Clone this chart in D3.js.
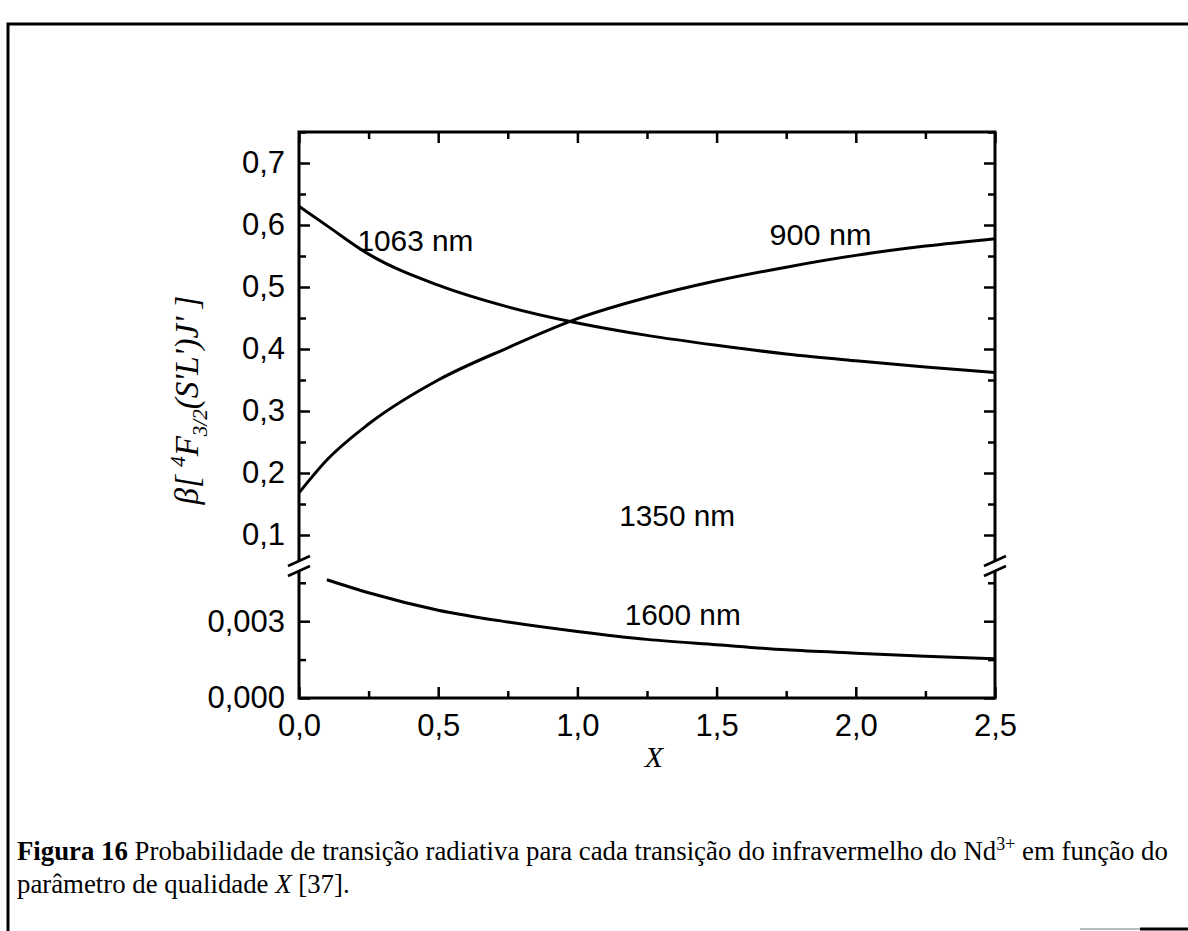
<!DOCTYPE html>
<html>
<head>
<meta charset="utf-8">
<script src="https://cdn.jsdelivr.net/npm/d3@7"></script>
<style>
  body { margin: 0; background: #fff; }
  svg { display: block; }
</style>
</head>
<body>
<div id="chart"></div>
<script>
// Branching ratio of the Nd3+ 4F3/2 infrared transitions vs quality parameter X

const xValues = [0, 0.1, 0.25, 0.5, 0.75, 1.0, 1.25, 1.5, 1.75, 2.0, 2.25, 2.5];
const beta1063 = [0.630, 0.599, 0.553, 0.503, 0.468, 0.442, 0.422, 0.406, 0.392, 0.381, 0.371, 0.362];
const beta900 = [0.168, 0.221, 0.279, 0.350, 0.402, 0.449, 0.483, 0.510, 0.532, 0.551, 0.566, 0.578];

const xValues1600 = [0.1, 0.25, 0.5, 0.75, 1.0, 1.25, 1.5, 1.75, 2.0, 2.25, 2.5];
const beta1600 = [0.00462, 0.00411, 0.00343, 0.00297, 0.00260, 0.00229, 0.00208, 0.00188, 0.00175, 0.00163, 0.00153];

const xMajorTicks = [0, 0.5, 1.0, 1.5, 2.0, 2.5];
const xMinorTicks = [0.25, 0.75, 1.25, 1.75, 2.25];
const yUpperMajor = [0.1, 0.2, 0.3, 0.4, 0.5, 0.6, 0.7];
const yUpperMinor = [0.15, 0.25, 0.35, 0.45, 0.55, 0.65, 0.75];
const yLowerMajor = [0, 0.003];
const yLowerMinor = [0.0015, 0.0045];

const curveLabels = [
    { text: "1063 nm", x: 0.21, y: 0.558, panel: "upper" },
    { text: "900 nm", x: 1.69, y: 0.568, panel: "upper" },
    { text: "1350 nm", x: 1.15, y: 0.115, panel: "upper" },
    { text: "1600 nm", x: 1.17, y: 0.00287, panel: "lower" }
];

const W = 1188, H = 931;
const margin = { left: 299, right: 995, top: 132, bottom: 698 };
const breakY = 566;

const svg = d3.select("#chart")
    .append("svg")
    .attr("width", W)
    .attr("height", H);

// page frame
svg.append("path")
    .attr("d", `M8,${H} L8,24 L${W},24`)
    .attr("fill", "none")
    .attr("stroke", "#000")
    .attr("stroke-width", 3);
svg.append("line")
    .attr("x1", 1080).attr("x2", 1140).attr("y1", 929).attr("y2", 929)
    .attr("stroke", "#bbb").attr("stroke-width", 2);
svg.append("line")
    .attr("x1", 1140).attr("x2", W).attr("y1", 929).attr("y2", 929)
    .attr("stroke", "#000").attr("stroke-width", 3);

const x = d3.scaleLinear().domain([0, 2.5]).range([margin.left, margin.right]);
const yUp = d3.scaleLinear().domain([0.05, 0.75]).range([breakY, margin.top]);
const yLow = d3.scaleLinear().domain([0, 0.005]).range([margin.bottom, 570]);

const fmt = d => d3.format(d < 0.01 ? ".3f" : ".1f")(d).replace(".", ",");
const fmtX = d => d3.format(".1f")(d).replace(".", ",");

function styleAxis(g, size) {
    g.select(".domain").remove();
    g.selectAll(".tick line").attr("stroke", "#000").attr("stroke-width", 2.5);
    g.selectAll(".tick text")
        .attr("fill", "#000")
        .style("font-family", "'Liberation Sans', Arial, sans-serif")
        .style("font-size", size + "px");
}

// bottom axis
svg.append("g")
    .attr("transform", `translate(0,${margin.bottom})`)
    .call(d3.axisBottom(x).tickValues(xMajorTicks).tickSize(-11).tickPadding(16).tickFormat(fmtX))
    .call(g => styleAxis(g, 31));
svg.append("g")
    .attr("transform", `translate(0,${margin.bottom})`)
    .call(d3.axisBottom(x).tickValues(xMinorTicks).tickSize(-7).tickFormat(""))
    .call(g => styleAxis(g, 31));

// top axis
svg.append("g")
    .attr("transform", `translate(0,${margin.top})`)
    .call(d3.axisTop(x).tickValues(xMajorTicks).tickSize(-11).tickFormat(""))
    .call(g => styleAxis(g, 31));
svg.append("g")
    .attr("transform", `translate(0,${margin.top})`)
    .call(d3.axisTop(x).tickValues(xMinorTicks).tickSize(-7).tickFormat(""))
    .call(g => styleAxis(g, 31));

// left and right axes, two panels each
[[yUp, yUpperMajor, yUpperMinor], [yLow, yLowerMajor, yLowerMinor]].forEach(([sc, maj, min]) => {
    svg.append("g")
        .attr("transform", `translate(${margin.left},0)`)
        .call(d3.axisLeft(sc).tickValues(maj).tickSize(-11).tickPadding(14).tickFormat(fmt))
        .call(g => styleAxis(g, 31));
    svg.append("g")
        .attr("transform", `translate(${margin.left},0)`)
        .call(d3.axisLeft(sc).tickValues(min).tickSize(-7).tickFormat(""))
        .call(g => styleAxis(g, 31));
    svg.append("g")
        .attr("transform", `translate(${margin.right},0)`)
        .call(d3.axisRight(sc).tickValues(maj).tickSize(-11).tickFormat(""))
        .call(g => styleAxis(g, 31));
    svg.append("g")
        .attr("transform", `translate(${margin.right},0)`)
        .call(d3.axisRight(sc).tickValues(min).tickSize(-7).tickFormat(""))
        .call(g => styleAxis(g, 31));
});

// axis frame lines with break
const frame = svg.append("g")
    .attr("stroke", "#000")
    .attr("stroke-width", 3)
    .attr("fill", "none");
frame.append("path")
    .attr("d", `M${margin.left},${breakY - 5} L${margin.left},${margin.top} L${margin.right},${margin.top} L${margin.right},${breakY - 5}`);
frame.append("path")
    .attr("d", `M${margin.left},${breakY + 5} L${margin.left},${margin.bottom} L${margin.right},${margin.bottom} L${margin.right},${breakY + 5}`);
[margin.left, margin.right].forEach(ax => {
    [-5, 5].forEach(dy => {
        frame.append("line")
            .attr("x1", ax - 11).attr("y1", breakY + dy + 5)
            .attr("x2", ax + 11).attr("y2", breakY + dy - 5)
            .attr("stroke-width", 2.5);
    });
});

// curves
const line = sc => d3.line()
    .x(d => x(d[0]))
    .y(d => sc(d[1]))
    .curve(d3.curveMonotoneX);

const series = [
    { xs: xValues, ys: beta1063, sc: yUp },
    { xs: xValues, ys: beta900, sc: yUp },
    { xs: xValues1600, ys: beta1600, sc: yLow }
];

svg.selectAll("path.curve")
    .data(series)
    .enter()
    .append("path")
    .attr("class", "curve")
    .attr("d", s => line(s.sc)(s.xs.map((v, i) => [v, s.ys[i]])))
    .attr("fill", "none")
    .attr("stroke", "#000")
    .attr("stroke-width", 3);

// curve labels
svg.selectAll("text.clabel")
    .data(curveLabels)
    .enter()
    .append("text")
    .attr("class", "clabel")
    .attr("x", d => x(d.x))
    .attr("y", d => (d.panel === "upper" ? yUp : yLow)(d.y))
    .attr("textLength", d => d.text.length === 6 ? 102 : 116)
    .attr("lengthAdjust", "spacingAndGlyphs")
    .style("font-family", "'Liberation Sans', Arial, sans-serif")
    .style("font-size", "30px")
    .text(d => d.text);

// axis titles
svg.append("text")
    .attr("x", (margin.left + margin.right) / 2 + 7)
    .attr("y", 767)
    .attr("text-anchor", "middle")
    .style("font-family", "'Liberation Serif', 'Times New Roman', serif")
    .style("font-style", "italic")
    .style("font-size", "30px")
    .text("X");

const yTitle = svg.append("text")
    .attr("transform", "translate(198,400) rotate(-90)")
    .attr("text-anchor", "middle")
    .style("font-family", "'Liberation Serif', 'Times New Roman', serif")
    .style("font-style", "italic")
    .style("font-size", "33px");
yTitle.append("tspan").text("β[ ");
yTitle.append("tspan").attr("dy", -13).style("font-size", "21px").text("4");
yTitle.append("tspan").attr("dy", 13).text("F");
yTitle.append("tspan").attr("dy", 9).style("font-size", "21px").text("3/2");
yTitle.append("tspan").attr("dy", -9).text("(S'L')J' ]");

// caption
const serif = "'Liberation Serif', 'Times New Roman', serif";
const cap1 = svg.append("text")
    .attr("x", 17).attr("y", 860)
    .style("font-family", serif)
    .style("font-size", "26.8px");
cap1.append("tspan").style("font-weight", "bold").text("Figura 16");
cap1.append("tspan").text(" Probabilidade de transição radiativa para cada transição do infravermelho do Nd");
cap1.append("tspan").attr("dy", -10).style("font-size", "18px").text("3+");
cap1.append("tspan").attr("dy", 10).text(" em função do");

const cap2 = svg.append("text")
    .attr("x", 17).attr("y", 893)
    .style("font-family", serif)
    .style("font-size", "26.8px");
cap2.append("tspan").text("parâmetro de qualidade ");
cap2.append("tspan").style("font-style", "italic").text("X");
cap2.append("tspan").text(" [37].");
</script>
</body>
</html>
